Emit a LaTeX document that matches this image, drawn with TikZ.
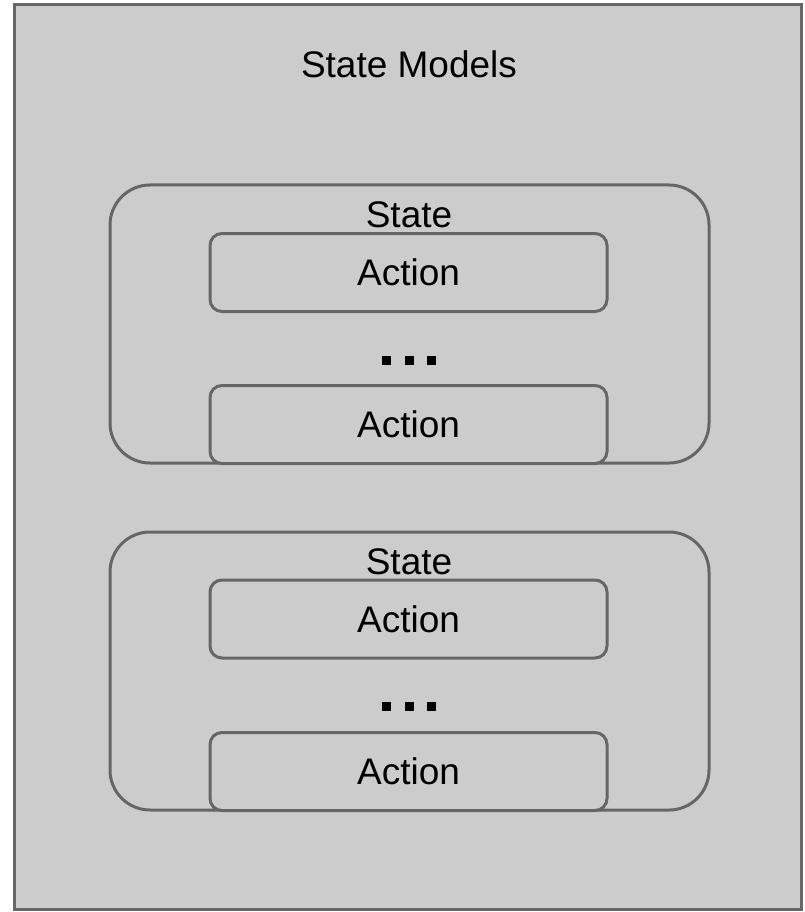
\documentclass[tikz,border=0pt]{standalone}
\usepackage{fontspec}
\setmainfont{Liberation Sans}
\usetikzlibrary{positioning}
\definecolor{boxgray}{HTML}{CCCCCC}
\definecolor{edgegray}{HTML}{666666}
\tikzset{
	outerbox/.style={draw=edgegray, fill=boxgray, line width=3pt},
	statebox/.style={draw=edgegray, fill=boxgray, line width=3pt, rounded corners=40pt, minimum width=599pt, minimum height=278pt, inner sep=0pt},
	actionbox/.style={draw=edgegray, fill=boxgray, line width=3pt, rounded corners=12pt, minimum width=397pt, minimum height=78pt, inner sep=0pt, font=\fontsize{37}{40}\selectfont},
	txt/.style={inner sep=0pt, font=\fontsize{37}{40}\selectfont},
}

\begin{document}
\begin{tikzpicture}[x=1pt, y=-1pt]
		%%%%% FRAME %%%%%
		\useasboundingbox (0, 0) rectangle (805, 912);
		\draw[outerbox] (14, 5) rectangle (801, 909);
		\node[txt] (title) at (409, 64) {State Models};
		
		%%%%% FIRST STATE %%%%%
		\node[statebox] (stateA) at (409.5, 324) {};
		\node[txt] (stateAlbl) at (409, 215) {State};
		\node[actionbox] (actA1) at (408.5, 272.5) {Action};
		\node[actionbox] (actA2) at (408.5, 424.5) {Action};
		\foreach \dx in {382, 405, 427}
			\fill (\dx, 356) rectangle ++(9, 9);
		
		%%%%% SECOND STATE %%%%%
		\node[statebox] (stateB) at (409.5, 671) {};
		\node[txt] (stateBlbl) at (409, 562) {State};
		\node[actionbox] (actB1) at (408.5, 619) {Action};
		\node[actionbox] (actB2) at (408.5, 771.5) {Action};
		\foreach \dx in {382, 405, 427}
			\fill (\dx, 702) rectangle ++(9, 9);
	\end{tikzpicture}
\end{document}
